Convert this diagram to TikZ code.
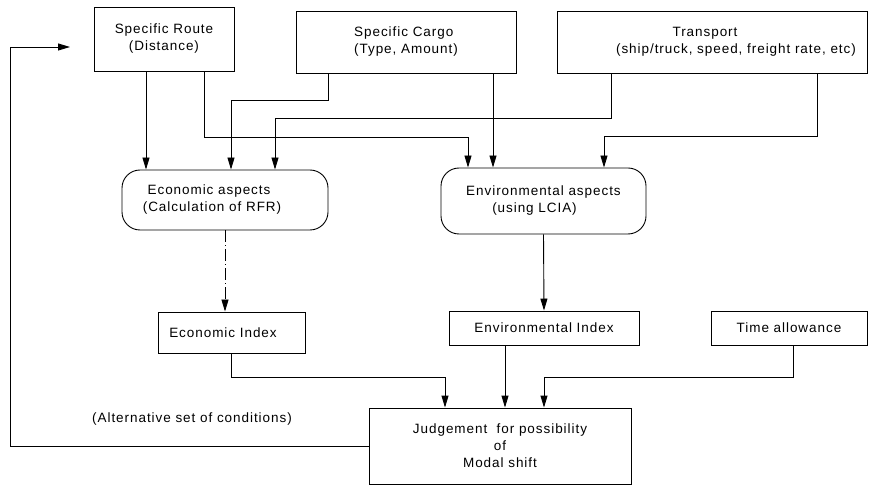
\documentclass[tikz,border=0pt]{standalone}
\usepackage{fontspec}
\setmainfont{Liberation Sans}[LetterSpace=7]
\usetikzlibrary{arrows.meta}
\tikzset{
  cbox/.style = {draw, rectangle, inner sep=0pt, align=center},
  rbox/.style = {draw, rectangle, rounded corners=18pt, inner sep=0pt, align=center},
  dd/.style = {dash pattern=on 12pt off 3pt on 1pt off 3pt}
}
\begin{document}
\begin{tikzpicture}[x=1pt, y=-1pt, line width=0.9pt, >={Triangle[length=12pt,width=7pt]},
  every node/.style={font=\fontsize{13.5}{17}\selectfont}]
\useasboundingbox (0,0) rectangle (870,486);
% conditions
\node [cbox, minimum width=140pt, minimum height=64pt] (route) at (164,39) {Specific Route\\(Distance)};
\node [cbox, align=left, minimum width=220pt, minimum height=62pt] (cargo) at (406,42) {Specific Cargo\\(Type, Amount)};
\node [cbox, minimum width=310pt, minimum height=62pt] (trans) at (712,42)
  {Transport\hspace*{14pt}\\\hspace*{48pt}(ship/truck, speed, freight rate, etc)};
% aspects
\node [rbox, minimum width=206pt, minimum height=60pt] (econ) at (225,200)
  {Economic aspects\hspace*{32pt}\\(Calculation of RFR)\hspace*{26pt}};
\node [rbox, minimum width=205pt, minimum height=66pt] (env) at (543.5,201)
  {Environmental aspects\\(using LCIA)\hspace*{18pt}};
% indices
\node [cbox, minimum width=147pt, minimum height=41pt] (ecoidx) at (231.5,332.5) {Economic Index\hspace*{17pt}};
\node [cbox, minimum width=190pt, minimum height=34pt] (envidx) at (544,328) {Environmental Index};
\node [cbox, minimum width=156pt, minimum height=34pt] (time) at (789,328) {Time allowance};
\node [cbox, minimum width=262pt, minimum height=76pt] (judge) at (500,446)
  {Judgement \ for possibility\\of\\Modal shift};
\node (alt) at (192,419) {(Alternative set of conditions)};
\coordinate (back) at (70,47);
\coordinate (turn) at (10,448);

% into the aspects
\draw[->] ([xshift=-18pt]route.south) -- ([xshift=-79pt]econ.north);
\draw[->] ([xshift=40pt]route.south) -- ++(0,66) -| ([xshift=-75.5pt]env.north);
\draw[->] ([xshift=-78pt]cargo.south) -- ++(0,27) -| ([xshift=6pt]econ.north);
\draw[->] ([xshift=87pt]cargo.south) -- ([xshift=-50.5pt]env.north);
\draw[->] ([xshift=-101pt]trans.south) -- ++(0,45) -| ([xshift=50pt]econ.north);
\draw[->] ([xshift=105pt]trans.south) -- ++(0,63) -| ([xshift=60.5pt]env.north);

% aspects to indices
\draw[->, dd] (econ.south) -- ([xshift=-6.5pt]ecoidx.north);
\draw[->] (env.south) -- (envidx.north);

% indices to judgement
\draw[->] (ecoidx.south) -- ++(0,24) -| ([xshift=-55pt]judge.north);
\draw[->] ([xshift=-39pt]envidx.south) -- ([xshift=5pt]judge.north);
\draw[->] ([xshift=4pt]time.south) -- ++(0,32) -| ([xshift=44pt]judge.north);

% feedback loop
\draw[->] (judge.west) -- (judge.west -| turn) |- (back);
\end{tikzpicture}
\end{document}
